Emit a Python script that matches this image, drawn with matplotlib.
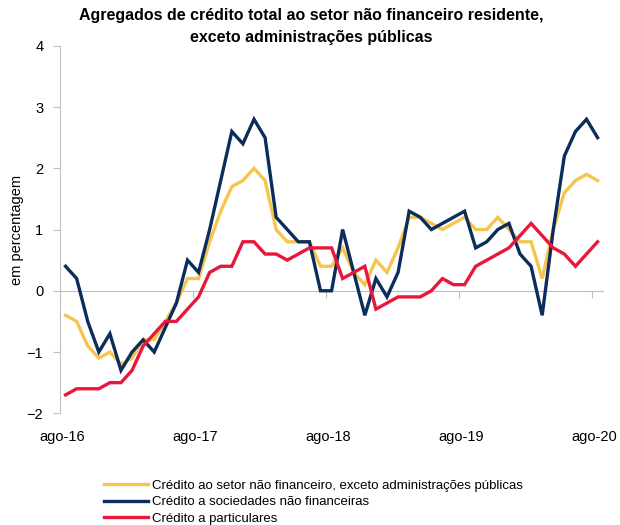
import matplotlib
matplotlib.use("Agg")
from matplotlib import pyplot as plt

plt.rcParams['font.family'] = ['Liberation Sans', 'DejaVu Sans']

# monthly, ago-16 .. ago-20
total = [-0.4, -0.5, -0.9, -1.1, -1.0, -1.2, -1.1, -0.8, -0.8, -0.5,
         -0.2, 0.2, 0.2, 0.8, 1.3, 1.7, 1.8, 2.0, 1.8, 1.0,
         0.8, 0.8, 0.8, 0.4, 0.4, 0.7, 0.3, 0.1, 0.5, 0.3,
         0.7, 1.2, 1.2, 1.1, 1.0, 1.1, 1.2, 1.0, 1.0, 1.2,
         1.0, 0.8, 0.8, 0.2, 1.0, 1.6, 1.8, 1.9, 1.8]
empresas = [0.4, 0.2, -0.5, -1.0, -0.7, -1.3, -1.0, -0.8, -1.0, -0.6,
            -0.2, 0.5, 0.3, 1.0, 1.8, 2.6, 2.4, 2.8, 2.5, 1.2,
            1.0, 0.8, 0.8, 0.0, 0.0, 1.0, 0.3, -0.4, 0.2, -0.1,
            0.3, 1.3, 1.2, 1.0, 1.1, 1.2, 1.3, 0.7, 0.8, 1.0,
            1.1, 0.6, 0.4, -0.4, 1.0, 2.2, 2.6, 2.8, 2.5]
particulares = [-1.7, -1.6, -1.6, -1.6, -1.5, -1.5, -1.3, -0.9, -0.7, -0.5,
                -0.5, -0.3, -0.1, 0.3, 0.4, 0.4, 0.8, 0.8, 0.6, 0.6,
                0.5, 0.6, 0.7, 0.7, 0.7, 0.2, 0.3, 0.4, -0.3, -0.2,
                -0.1, -0.1, -0.1, 0.0, 0.2, 0.1, 0.1, 0.4, 0.5, 0.6,
                0.7, 0.9, 1.1, 0.9, 0.7, 0.6, 0.4, 0.6, 0.8]
tick_labels = ['ago-16', 'ago-17', 'ago-18', 'ago-19', 'ago-20']

names = ['Crédito ao setor não financeiro, exceto administrações públicas',
         'Crédito a sociedades não financeiras',
         'Crédito a particulares']
colors = ['#F5C54E', '#0B2D5C', '#E8173C']

fig = plt.figure(figsize=(6.2, 5.25), dpi=100)
ax = fig.add_axes([0.0968, 0.2128, 0.876, 0.700])

x = list(range(len(total)))
for y, name, c in zip([total, empresas, particulares], names, colors):
    ax.plot(x, y, color=c, lw=2.4, label=name, solid_joinstyle='miter')

ax.set_xlim(-0.5, len(total) - 0.5)
ax.set_ylim(-2, 4)
ax.set_yticks(range(-2, 5))
ax.tick_params(axis='y', direction='out', length=5, color='#BFBFBF',
               labelsize=10.5, pad=7)

ax.spines['top'].set_visible(False)
ax.spines['right'].set_visible(False)
ax.spines['left'].set_color('#BFBFBF')
ax.spines['bottom'].set_color('#BFBFBF')
ax.spines['bottom'].set_position(('data', 0))
ax.spines['bottom'].set_zorder(0)

# tick marks between categories, on the zero line
ax.set_xticks([i * 12 - 0.5 for i in range(len(tick_labels))])
ax.set_xticklabels([])
ax.tick_params(axis='x', direction='out', length=5, color='#BFBFBF')
for k, lab in enumerate(tick_labels):
    ax.text(k * 12 - 0.3, -0.045, lab, transform=ax.get_xaxis_transform(),
            ha='center', va='top', fontsize=10.5)

ax.set_ylabel('em percentagem', fontsize=10.5, labelpad=2)

fig.text(0.502, 0.985, 'Agregados de crédito total ao setor não financeiro residente,\n'
         'exceto administrações públicas', ha='center', va='top',
         fontsize=11.5, fontweight='bold', linespacing=1.6)

fig.legend(loc='upper left', bbox_to_anchor=(0.168, 0.087), frameon=False,
           fontsize=9.5, handlelength=3.3, labelspacing=0.33, handletextpad=0.3,
           borderaxespad=0, borderpad=0)

fig.savefig('out.png', dpi=100)
